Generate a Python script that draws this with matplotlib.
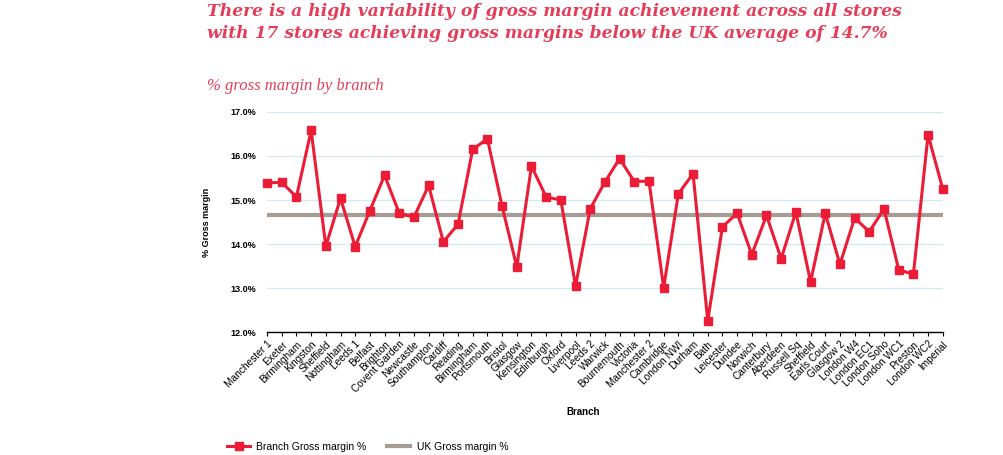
import numpy as np
import matplotlib.pyplot as plt
from matplotlib.ticker import FuncFormatter

branches = ['Manchester 1', 'Exeter', 'Birmingham', 'Kingston', 'Sheffield', 'Nottingham',
            'Leeds 1', 'Belfast', 'Brighton', 'Covent Garden', 'Newcastle', 'Southampton',
            'Cardiff', 'Reading', 'Birmingham', 'Portsmouth', 'Bristol', 'Glasgow',
            'Kensington', 'Edinburgh', 'Oxford', 'Liverpool', 'Leeds 2', 'Warwick',
            'Bournemouth', 'Victoria', 'Manchester 2', 'Cambridge', 'London NWI', 'Durham',
            'Bath', 'Leicester', 'Dundee', 'Norwich', 'Canterbury', 'Aberdeen', 'Russell Sq',
            'Sheffield', 'Earls Court', 'Glasgow 2', 'London W4', 'London EC1', 'London Soho',
            'London WC1', 'Preston', 'London WC2', 'Imperial']

branch_margin = [15.39, 15.40, 15.07, 16.58, 13.95, 15.04, 13.94, 14.76, 15.56, 14.70,
                 14.61, 15.33, 14.05, 14.45, 16.15, 16.39, 14.86, 13.48, 15.77, 15.07,
                 15.00, 13.05, 14.80, 15.41, 15.94, 15.42, 15.43, 13.01, 15.14, 15.60,
                 12.26, 14.39, 14.70, 13.76, 14.65, 13.67, 14.73, 13.14, 14.70, 13.54,
                 14.59, 14.28, 14.80, 13.42, 13.31, 16.48, 15.25]

uk_margin = 14.65

title_lines = ['There is a high variability of gross margin achievement across all stores',
               'with 17 stores achieving gross margins below the UK average of 14.7%']

red = '#EC1C36'
grey = '#A69C94'
title_red = '#E63C58'

plt.rcParams['font.family'] = ['Liberation Sans', 'DejaVu Sans']

fig = plt.figure(figsize=(10.04, 4.55), dpi=100)
ax = fig.add_axes([0.266, 0.270, 0.673, 0.484])

x = np.arange(len(branches))
ax.plot(x, [uk_margin] * len(x), color=grey, lw=3.0, label='UK Gross margin %', zorder=2)
ax.plot(x, branch_margin, color=red, lw=2.2, marker='s', ms=5.2, label='Branch Gross margin %',
        zorder=3, clip_on=False)

ax.set_xlim(0, len(x) - 1)
ax.set_ylim(12, 17)
ax.set_yticks(np.arange(12, 17.1, 1))
ax.yaxis.set_major_formatter(FuncFormatter(lambda v, p: f'{v:.1f}%'))
ax.grid(axis='y', color='#CDEBF0', lw=0.9, zorder=0)
ax.set_axisbelow(True)

for s in ['top', 'right', 'left']:
    ax.spines[s].set_visible(False)
ax.spines['bottom'].set_linewidth(1.0)
ax.tick_params(axis='y', length=0, labelsize=6.5, pad=8)
for t in ax.get_yticklabels():
    t.set_fontweight('bold')
ax.set_xticks(x)
ax.set_xticklabels(branches, rotation=45, ha='right', rotation_mode='anchor', fontsize=7.3)
ax.tick_params(axis='x', length=3, width=0.8, pad=2)

ax.set_ylabel('% Gross margin', fontsize=6.5, fontweight='bold', labelpad=14)
fig.text(0.581, 0.094, 'Branch', fontsize=7, fontweight='bold', ha='center', va='center')

# title, one text per line so each baseline sits where the reference has it
for i, line in enumerate(title_lines):
    fig.text(0.206, 1 - (16 + 22 * i) / 455, line, fontsize=12.3, fontstyle='italic',
             fontweight='bold', family='DejaVu Serif', color=title_red,
             ha='left', va='baseline')
fig.text(0.206, 1 - 89.5 / 455, '% gross margin by branch', fontsize=12, fontstyle='italic',
         family='Liberation Serif', color=title_red, ha='left', va='baseline')

h, l = ax.get_legend_handles_labels()
fig.legend(h[::-1], l[::-1], loc='center left', bbox_to_anchor=(0.217, 0.018), ncol=2,
           frameon=False, fontsize=7.5, handlelength=2.2, columnspacing=2.0, handletextpad=0.6)

fig.savefig('out.png', dpi=100)
